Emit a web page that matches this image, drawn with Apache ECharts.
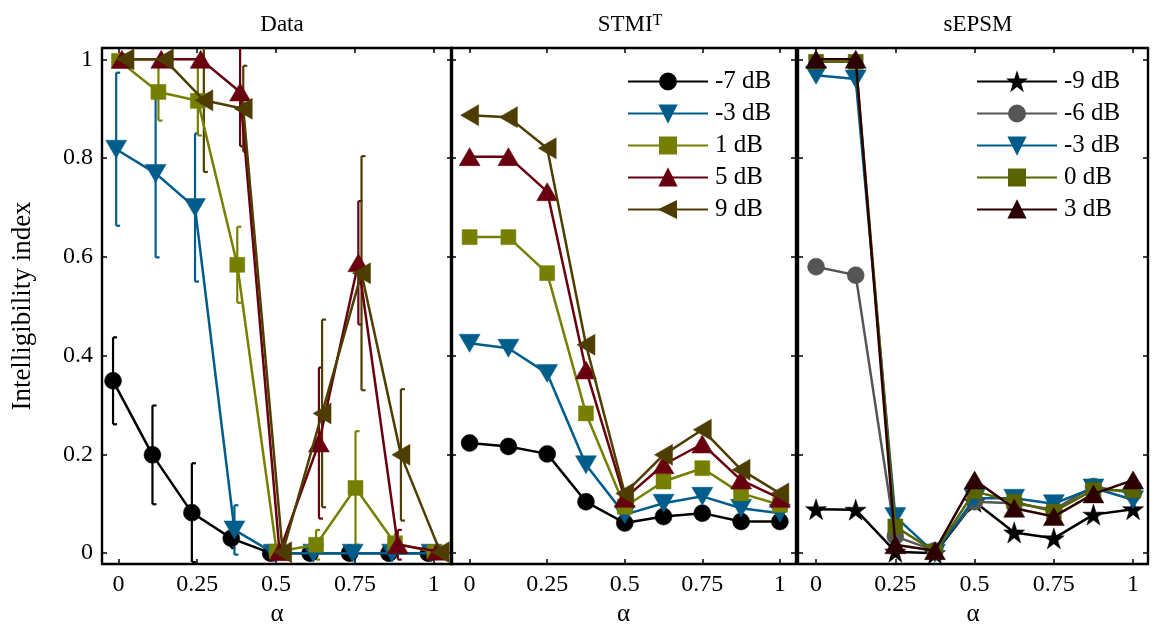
<!DOCTYPE html>
<html><head><meta charset="utf-8">
<script src="https://cdn.jsdelivr.net/npm/echarts@6/dist/echarts.min.js"></script>
<style>html,body{margin:0;padding:0;background:#fff}#c{width:1157px;height:633px}</style>
</head><body><div id="c"></div>
<script>
// ---------- data ----------
const alpha = [0, 0.125, 0.25, 0.375, 0.5, 0.625, 0.75, 0.875, 1];
const xTicks = [0, 0.25, 0.5, 0.75, 1];
const yTicks = [0, 0.2, 0.4, 0.6, 0.8, 1];
const panelTitles = ['Data', 'STMI', 'sEPSM'];
const yName = 'Intelligibility index';
const xName = 'α';

// Data panel (measured), with small horizontal offsets per condition
const dataNames = ['-7 dB', '-3 dB', '1 dB', '5 dB', '9 dB'];
const dataJitter = [-0.017, -0.007, 0.002, 0.011, 0.021];
const data_m7 = [0.349, 0.199, 0.082, 0.030, 0.000, 0.000, 0.000, 0.000, 0.000];
const data_m3 = [0.818, 0.769, 0.700, 0.047, 0.000, 0.000, 0.000, 0.000, 0.000];
const data_1  = [0.997, 0.934, 0.916, 0.584, 0.003, 0.017, 0.132, 0.020, 0.002];
const data_5  = [1.000, 1.000, 1.000, 0.934, 0.003, 0.223, 0.588, 0.017, 0.004];
const data_9  = [1.000, 1.000, 0.917, 0.900, 0.002, 0.283, 0.567, 0.199, 0.002];
const err_m7 = [0.088, 0.100, 0.100, 0.020, 0, 0, 0, 0, 0];
const err_m3 = [0.155, 0.170, 0.150, 0.050, 0, 0, 0, 0, 0];
const err_1  = [0, 0.058, 0.070, 0.077, 0, 0.030, 0.115, 0.020, 0];
const err_5  = [0, 0, 0, 0.110, 0, 0.153, 0.125, 0.030, 0];
const err_9  = [0, 0, 0.145, 0.087, 0, 0.190, 0.237, 0.133, 0];

// STMI^T panel
const stmiNames = ['-7 dB', '-3 dB', '1 dB', '5 dB', '9 dB'];
const stmi_m7 = [0.223, 0.216, 0.201, 0.104, 0.061, 0.074, 0.081, 0.064, 0.064];
const stmi_m3 = [0.425, 0.415, 0.364, 0.179, 0.078, 0.101, 0.115, 0.091, 0.081];
const stmi_1  = [0.640, 0.640, 0.567, 0.283, 0.094, 0.145, 0.172, 0.121, 0.098];
const stmi_5  = [0.803, 0.803, 0.732, 0.371, 0.111, 0.179, 0.221, 0.148, 0.111];
const stmi_9  = [0.887, 0.883, 0.820, 0.422, 0.121, 0.199, 0.250, 0.169, 0.121];

// sEPSM panel
const sepNames = ['-9 dB', '-6 dB', '-3 dB', '0 dB', '3 dB'];
const sep_m9 = [0.089, 0.088, 0.003, 0.000, 0.104, 0.042, 0.030, 0.078, 0.089];
const sep_m6 = [0.580, 0.563, 0.034, 0.005, 0.104, 0.101, 0.088, 0.135, 0.121];
const sep_m3 = [0.968, 0.960, 0.074, 0.000, 0.111, 0.111, 0.100, 0.132, 0.108];
const sep_0  = [0.995, 0.995, 0.054, 0.003, 0.125, 0.104, 0.084, 0.128, 0.127];
const sep_3  = [1.000, 1.000, 0.017, 0.005, 0.148, 0.091, 0.074, 0.120, 0.148];

// ---------- styles ----------
const FONT = '"Liberation Serif", "DejaVu Serif", serif';
const C = {black:'#000000', blue:'#005d8b', olive:'#768000', maroon:'#68000f', brown:'#4e3d00',
           gray:'#555555', olive2:'#596300', dark:'#2c0000'};
const STAR = 'path://M50,0 L61.8,35.5 L99,35.5 L69,57.5 L80.5,93 L50,71 L19.5,93 L31,57.5 L1,35.5 L38.2,35.5 Z';
const sym5 = [
  {symbol:'circle', size:17, rot:0},
  {symbol:'triangle', size:[21,18], rot:180},
  {symbol:'rect', size:15, rot:0},
  {symbol:'triangle', size:[21,18], rot:0},
  {symbol:'triangle', size:[21,18], rot:90}
];
const col5 = [C.black, C.blue, C.olive, C.maroon, C.brown];
const symS = [
  {symbol:STAR, size:21, rot:0},
  {symbol:'circle', size:17, rot:0},
  {symbol:'triangle', size:[21,18], rot:180},
  {symbol:'rect', size:15, rot:0},
  {symbol:'triangle', size:[21,18], rot:0}
];
const colS = [C.black, C.gray, C.blue, C.olive2, C.dark];

// ---------- layout ----------
const grids = [
  {left:102, top:48, width:350, height:516, xmin:-0.052, xmax:1.058},
  {left:451, top:48, width:345, height:516, xmin:-0.06, xmax:1.052},
  {left:798, top:48, width:350, height:516, xmin:-0.057, xmax:1.047}
];
const YMIN = -0.022, YMAX = 1.023;

const axLine = {show:true, onZero:false, lineStyle:{color:'#000', width:2.4}};
const xAxes = [], yAxes = [];
grids.forEach((g, i) => {
  xAxes.push({type:'value', gridIndex:i, position:'bottom', min:g.xmin, max:g.xmax,
    axisLine:axLine, splitLine:{show:false},
    axisTick:{show:true, inside:true, length:5, customValues:xTicks, lineStyle:{color:'#000', width:1.5}},
    axisLabel:{show:true, customValues:xTicks, color:'#000', fontFamily:FONT, fontSize:24, margin:9},
    name:xName, nameLocation:'middle', nameGap:38,
    nameTextStyle:{color:'#000', fontFamily:FONT, fontSize:25}});
  xAxes.push({type:'value', gridIndex:i, position:'top', min:g.xmin, max:g.xmax,
    axisLine:axLine, splitLine:{show:false},
    axisTick:{show:true, inside:true, length:5, customValues:xTicks, lineStyle:{color:'#000', width:1.5}},
    axisLabel:{show:false}});
  yAxes.push({type:'value', gridIndex:i, position:'left', min:YMIN, max:YMAX,
    axisLine:axLine, splitLine:{show:false},
    axisTick:{show:true, inside:true, length:5, customValues:yTicks, lineStyle:{color:'#000', width:1.5}},
    axisLabel:{show:i === 0, customValues:yTicks, color:'#000', fontFamily:FONT, fontSize:24, margin:9},
    name:i === 0 ? yName : '', nameLocation:'middle', nameGap:66,
    nameTextStyle:{color:'#000', fontFamily:FONT, fontSize:27}});
  yAxes.push({type:'value', gridIndex:i, position:'right', min:YMIN, max:YMAX,
    axisLine:axLine, splitLine:{show:false},
    axisTick:{show:true, inside:true, length:5, customValues:yTicks, lineStyle:{color:'#000', width:1.5}},
    axisLabel:{show:false}});
});

const series = [];
function errSeries(gi, xs, ys, es, color) {
  const d = [];
  xs.forEach((x, k) => { if (es[k] > 0) d.push([x, ys[k] - es[k], ys[k] + es[k]]); });
  return {type:'custom', xAxisIndex:gi * 2, yAxisIndex:gi * 2, clip:true, z:1, silent:true,
    data:d,
    renderItem:function(params, api){
      const x = api.value(0), lo = api.value(1), hi = api.value(2);
      const pt = api.coord([x, hi]), pb = api.coord([x, lo]);
      const st = {stroke:color, lineWidth:2.2, fill:null};
      return {type:'group', children:[
        {type:'line', shape:{x1:pt[0], y1:pt[1], x2:pb[0], y2:pb[1]}, style:st},
        {type:'line', shape:{x1:pt[0], y1:pt[1], x2:pt[0] + 4, y2:pt[1]}, style:st},
        {type:'line', shape:{x1:pb[0], y1:pb[1], x2:pb[0] + 4, y2:pb[1]}, style:st}
      ]};
    }};
}
function lineSeries(gi, name, xs, ys, color, s, z) {
  return {type:'line', name:name, xAxisIndex:gi * 2, yAxisIndex:gi * 2,
    data:xs.map((x, k) => [x, ys[k]]),
    symbol:s.symbol, symbolSize:s.size, symbolRotate:s.rot, showAllSymbol:true,
    lineStyle:{color:color, width:2.5}, itemStyle:{color:color, borderColor:color, borderWidth:0.5},
    z:z, clip:false, emphasis:{disabled:true}};
}

// Data panel
const dataVals = [data_m7, data_m3, data_1, data_5, data_9];
const dataErrs = [err_m7, err_m3, err_1, err_5, err_9];
dataVals.forEach((v, k) => {
  const xs = alpha.map(a => a + dataJitter[k]);
  series.push(errSeries(0, xs, v, dataErrs[k], col5[k]));
});
dataVals.forEach((v, k) => {
  const xs = alpha.map(a => a + dataJitter[k]);
  series.push(lineSeries(0, 'D:' + dataNames[k], xs, v, col5[k], sym5[k], 3 + k));
});
// STMI panel
[stmi_m7, stmi_m3, stmi_1, stmi_5, stmi_9].forEach((v, k) => {
  series.push(lineSeries(1, 'T:' + stmiNames[k], alpha, v, col5[k], sym5[k], 3 + k));
});
// sEPSM panel
[sep_m9, sep_m6, sep_m3, sep_0, sep_3].forEach((v, k) => {
  series.push(lineSeries(2, 'S:' + sepNames[k], alpha, v, colS[k], symS[k], 3 + k));
});

const legendBase = {orient:'vertical', itemWidth:80, itemHeight:20, itemGap:7,
  textStyle:{color:'#000', fontFamily:FONT, fontSize:25, padding:[0,0,0,2]},
  formatter:n => n.slice(2), selectedMode:false, inactiveColor:'#000'};

const titleStyle = {color:'#000', fontFamily:FONT, fontSize:23, fontWeight:'normal'};
const option = {
  animation:false,
  backgroundColor:'#fff',
  title:[
    {text:panelTitles[0], left:277, top:8, textAlign:'center', textStyle:titleStyle},
    {text:'{a|' + panelTitles[1] + '}{s|T}', left:625, top:8, textAlign:'center',
     textStyle:Object.assign({}, titleStyle, {rich:{
       a:{fontFamily:FONT, fontSize:23, color:'#000', verticalAlign:'bottom'},
       s:{fontFamily:FONT, fontSize:16, color:'#000', verticalAlign:'top'}}})},
    {text:panelTitles[2], left:973, top:8, textAlign:'center', textStyle:titleStyle}
  ],
  grid:grids.map(g => ({left:g.left, top:g.top, width:g.width, height:g.height, containLabel:false})),
  xAxis:xAxes,
  yAxis:yAxes,
  legend:[
    Object.assign({}, legendBase, {left:622, top:64, data:stmiNames.map(n => 'T:' + n)}),
    Object.assign({}, legendBase, {left:971, top:64, data:sepNames.map(n => 'S:' + n)})
  ],
  series:series
};
const chart = echarts.init(document.getElementById('c'), null, {renderer:'canvas'});
chart.setOption(option);
</script></body></html>
